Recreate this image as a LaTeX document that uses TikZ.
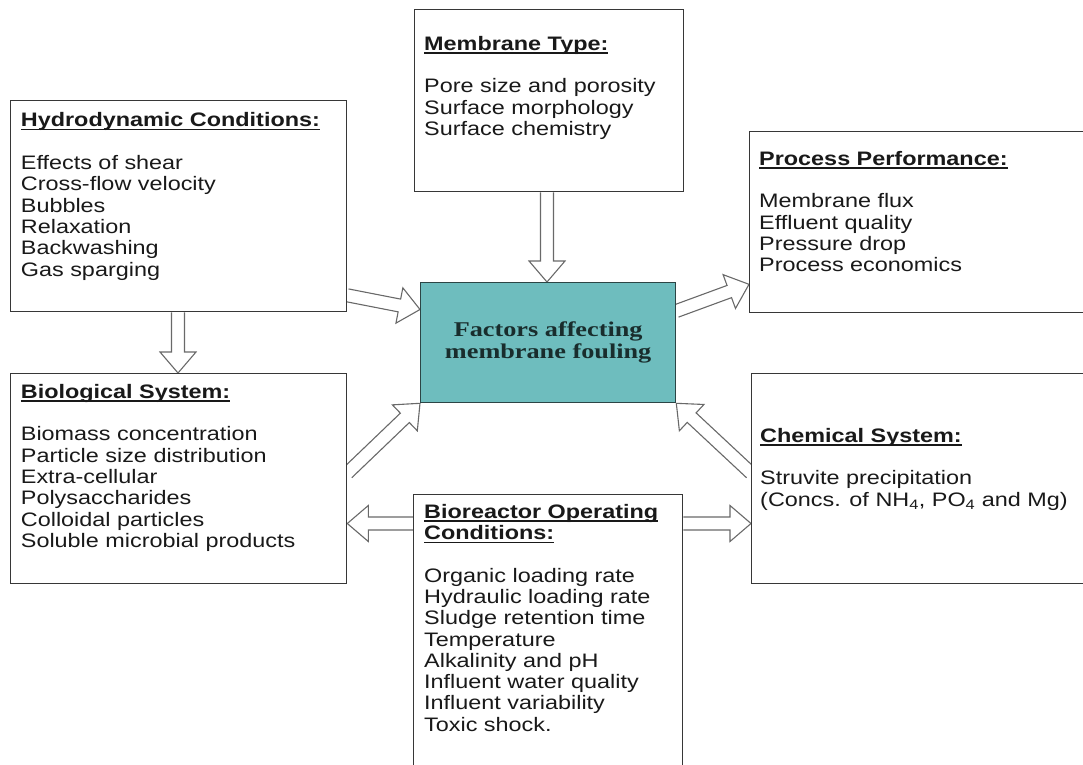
\documentclass[tikz,border=0pt]{standalone}
\usepackage{fontspec}
\setmainfont{Liberation Sans}[FakeStretch=1.2]
\newfontfamily\serifbold{Liberation Serif}[FakeStretch=1.25]
\usetikzlibrary{calc}
\definecolor{tealfill}{RGB}{110,189,190}
\definecolor{boxline}{RGB}{55,55,55}
\definecolor{arrline}{RGB}{105,105,105}
\definecolor{ctext}{RGB}{25,45,45}
\pgfdeclarelayer{bg}
\pgfsetlayers{bg,main}
\newcommand\hdr[1]{\setbox0\hbox{\bfseries #1}\rlap{\rule[-3.5pt]{\wd0}{1.3pt}}\box0}
\newcommand\barrow[2]{%
  \coordinate (bh) at ($(#2)!21pt!(#1)$);
  \draw[arr] ($(#1)!6.5pt!90:(#2)$) -- ($(bh)!6.5pt!-90:(#1)$) -- ($(bh)!18pt!-90:(#1)$) -- (#2) -- ($(bh)!18pt!90:(#1)$) -- ($(bh)!6.5pt!90:(#1)$) -- ($(#1)!6.5pt!-90:(#2)$);}
\begin{document}
\begin{tikzpicture}[x=1pt,y=-1pt,
  box/.style={draw=boxline, line width=1.3pt, fill=white, rectangle, anchor=north west, inner sep=0pt},
  txt/.style={anchor=north west, align=left, inner sep=0pt, font=\fontsize{19.5}{21.3}\selectfont, text=black!90},
  arr/.style={draw=arrline, line width=1.1pt, fill=white, line join=miter}]
\useasboundingbox (0,0) rectangle (1083,764);
\clip (0,0) rectangle (1083,764);
% boxes
\node[box, minimum width=336pt, minimum height=211pt] (hyd) at (10,100) {};
\node[box, minimum width=336pt, minimum height=210pt] (bio) at (10,373) {};
\node[box, minimum width=269pt, minimum height=182pt] (mem) at (414,9) {};
\node[box, minimum width=350pt, minimum height=181pt] (proc) at (749,131) {};
\node[box, minimum width=350pt, minimum height=210pt] (chem) at (751,373) {};
\node[box, minimum width=269pt, minimum height=300pt] (bior) at (413,494) {};
\node[box, fill=tealfill, draw=boxline!80!teal, minimum width=255pt, minimum height=120pt,
  align=center, text=ctext, font=\serifbold\bfseries\fontsize{21}{21.7}\selectfont] (cen) at (420,282)
  {Factors affecting\\membrane fouling};
% texts
\node[txt] (hydt) at (20.7,111.7) {\rule{0pt}{15pt}\hdr{Hydrodynamic Conditions:}\\[21.3pt]Effects of shear\\Cross-flow velocity\\Bubbles\\Relaxation\\Backwashing\\Gas sparging};
\node[txt] (biot) at (20.7,383) {\rule{0pt}{15pt}\hdr{Biological System:}\\[21.3pt]Biomass concentration\\Particle size distribution\\Extra-cellular\\Polysaccharides\\Colloidal particles\\Soluble microbial products};
\node[txt] (memt) at (424,35) {\rule{0pt}{15pt}\hdr{Membrane Type:}\\[21.3pt]Pore size and porosity\\Surface morphology\\Surface chemistry};
\node[txt] (proct) at (759,150) {\rule{0pt}{15pt}\hdr{Process Performance:}\\[21.3pt]Membrane flux\\Effluent quality\\Pressure drop\\Process economics};
\node[txt] (chemt) at (760,427) {\rule{0pt}{15pt}\hdr{Chemical System:}\\[21.3pt]Struvite precipitation\\(Concs. of NH\textsubscript{4}, PO\textsubscript{4} and Mg)};
\node[txt] (biort) at (424,503) {\rule{0pt}{15pt}\hdr{Bioreactor Operating}\\\hdr{Conditions:}\\[21.3pt]Organic loading rate\\Hydraulic loading rate\\Sludge retention time\\Temperature\\Alkalinity and pH\\Influent water quality\\Influent variability\\Toxic shock.};
% arrow end points
\coordinate (a1s) at ($(hyd.south east)+(0,-17)$);
\coordinate (a1e) at ($(cen.north west)+(0,27.5)$);
\coordinate (a2s) at ($(cen.north east)+(0,29)$);
\coordinate (a2e) at ($(proc.south west)+(0,-29)$);
\coordinate (a3s) at ($(bio.north east)+(0,100)$);
\coordinate (a3e) at (cen.south west);
\coordinate (a4s) at ($(chem.north west)+(0,100)$);
\coordinate (a4e) at (cen.south east);
\coordinate (a5s) at ($(hyd.south west)+(168,0)$);
\coordinate (a5e) at ($(bio.north west)+(168,0)$);
\coordinate (a6s) at ($(mem.south west)+(133,0)$);
\coordinate (a6e) at ($(cen.north west)+(127,0)$);
\coordinate (a7s) at ($(bior.north west)+(0,29.5)$);
\coordinate (a7e) at ($(bio.north east)+(0,150.5)$);
\coordinate (a8s) at ($(bior.north east)+(0,29.5)$);
\coordinate (a8e) at ($(chem.north west)+(0,150.5)$);
\begin{pgfonlayer}{bg}
\barrow{a1s}{a1e}
\barrow{a2s}{a2e}
\barrow{a3s}{a3e}
\barrow{a4s}{a4e}
\barrow{a5s}{a5e}
\barrow{a6s}{a6e}
\barrow{a7s}{a7e}
\barrow{a8s}{a8e}
\end{pgfonlayer}
\end{tikzpicture}
\end{document}
